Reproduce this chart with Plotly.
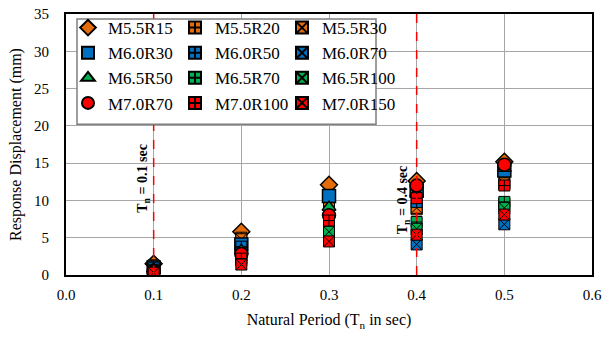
import plotly.graph_objects as go

periods = [0.1, 0.2, 0.3, 0.4, 0.5]

series_names = ["M5.5R15", "M5.5R20", "M5.5R30",
                "M6.0R30", "M6.0R50", "M6.0R70",
                "M6.5R50", "M6.5R70", "M6.5R100",
                "M7.0R70", "M7.0R100", "M7.0R150"]

M55R15 = [1.5, 5.8, 12.1, 12.6, 15.2]
M55R20 = [1.3, 5.0, 10.0, 8.8, 12.2]
M55R30 = [1.1, 4.8, 9.8, 9.0, 12.3]
M60R30 = [1.0, 4.1, 10.6, 11.3, 14.0]
M60R50 = [0.9, 3.8, 8.5, 9.8, 9.6]
M60R70 = [0.6, 3.0, 6.5, 4.1, 6.8]
M65R50 = [0.8, 3.3, 9.1, 11.0, 14.3]
M65R70 = [0.6, 2.6, 6.4, 7.1, 9.8]
M65R100 = [0.5, 2.0, 5.8, 6.2, 9.0]
M70R70 = [0.5, 2.8, 8.0, 12.0, 14.8]
M70R100 = [0.4, 2.2, 7.3, 10.3, 12.0]
M70R150 = [0.3, 1.4, 4.5, 5.4, 8.1]

values = [M55R15, M55R20, M55R30, M60R30, M60R50, M60R70,
          M65R50, M65R70, M65R100, M70R70, M70R100, M70R150]

ORANGE = "#E46C0A"
BLUE = "#0070C0"
GREEN = "#00B050"
RED = "#FF0000"
colors = [ORANGE]*3 + [BLUE]*3 + [GREEN]*3 + [RED]*3
first_symbols = ["diamond", "square", "triangle-up", "circle"]

FONT = "Liberation Serif, Times New Roman, serif"

fig = go.Figure()
for i, (name, vals) in enumerate(zip(series_names, values)):
    grp, kind = divmod(i, 3)
    if kind == 0:
        sym = first_symbols[grp]
        size = 13 if sym != "triangle-up" else 12
        line = dict(color="black", width=1.5)
    elif kind == 1:
        sym = "square-cross"
        size = 11
        line = dict(color="black", width=1)
    else:
        sym = "square-x"
        size = 11
        line = dict(color="black", width=1)
    fig.add_trace(go.Scatter(
        x=periods, y=vals, mode="markers", name=name,
        marker=dict(symbol=sym, size=size, color=colors[i], line=line),
        legend=["legend", "legend2", "legend3"][kind],
    ))

L, R, T, B = 66, 592, 10, 275
W, H = 603, 337
pw, ph = R - L, B - T

def px_x(p):
    return (p - L) / pw

def px_y(p):
    return (B - p) / ph

leg_common = dict(bgcolor="rgba(0,0,0,0)", borderwidth=0,
                  font=dict(family=FONT, size=17, color="black"),
                  xanchor="left", yanchor="top", orientation="v",
                  tracegroupgap=0, itemsizing="constant")

# dashed period markers (drawn before legend frame so the frame covers them)
for xv in [0.1, 0.4]:
    fig.add_shape(type="line", xref="x", yref="paper", x0=xv, x1=xv,
                  y0=0, y1=1, line=dict(color=RED, width=1.5, dash="dash"),
                  layer="above")

# legend frame
fig.add_shape(type="rect", xref="paper", yref="paper",
              x0=px_x(77), x1=px_x(376), y0=px_y(122), y1=px_y(15),
              fillcolor="white", line=dict(color="#7F7F7F", width=1.5),
              layer="above")

fig.update_layout(
    width=W, height=H,
    margin=dict(l=L, r=W - R, t=T, b=H - B),
    paper_bgcolor="white", plot_bgcolor="white",
    font=dict(family=FONT, size=15, color="black"),
    showlegend=True,
    legend=dict(x=px_x(68), y=px_y(6), **leg_common),
    legend2=dict(x=px_x(175), y=px_y(6), **leg_common),
    legend3=dict(x=px_x(282), y=px_y(6), **leg_common),
    xaxis=dict(range=[0, 0.6], dtick=0.1, tickformat=".1f",
               showgrid=True, gridcolor="#A6A6A6", gridwidth=1,
               showline=True, linecolor="black", linewidth=2, mirror=True,
               zeroline=False, ticks="", ticklabelstandoff=5,
               automargin=False, ticklabeloverflow="allow",
               tickfont=dict(family=FONT, size=15),
               title=dict(text="Natural Period (T<sub>n</sub> in sec)",
                          font=dict(family=FONT, size=16), standoff=12)),
    yaxis=dict(range=[0, 35], dtick=5,
               showgrid=True, gridcolor="#A6A6A6", gridwidth=1,
               showline=True, linecolor="black", linewidth=2, mirror=True,
               zeroline=False, ticks="", ticklabelstandoff=12,
               automargin=False, ticklabeloverflow="allow",
               tickfont=dict(family=FONT, size=15),
               title=dict(text="Response Displacement (mm)",
                          font=dict(family=FONT, size=16), standoff=8)),
)

fig.add_annotation(x=0.1, y=13, xref="x", yref="y", xshift=-11,
                   text="<b>T<sub>n</sub> = 0.1 sec</b>", textangle=-90,
                   showarrow=False, font=dict(family=FONT, size=14, color="black"))
fig.add_annotation(x=0.4, y=10.1, xref="x", yref="y", xshift=-13,
                   text="<b>T<sub>n</sub> = 0.4 sec</b>", textangle=-90,
                   showarrow=False, font=dict(family=FONT, size=14, color="black"))

fig.write_html("out.html")
